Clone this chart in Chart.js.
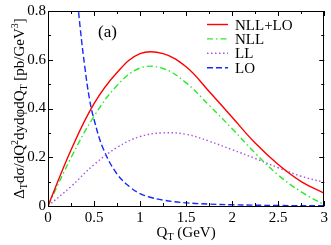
<!DOCTYPE html>
<html>
<head>
<meta charset="UTF-8">
<title>Q_T distribution (a)</title>
<script src="https://cdn.jsdelivr.net/npm/chart.js@4.4.0/dist/chart.umd.min.js"></script>
<style>
    body { margin: 0; background: #fff; }
    .chart-container { width: 331px; height: 245px; position: relative; }
</style>
</head>
<body>
<div class="chart-container">
    <canvas id="qtChart"></canvas>
</div>
<script>
// Data
const qtGrid   = [0, 0.25, 0.5, 0.75, 1.0, 1.25, 1.5, 1.75, 2.0, 2.25, 2.5, 2.75, 3.0];
const nllLo    = [0, 0.23, 0.42, 0.548, 0.625, 0.625, 0.571, 0.47, 0.364, 0.258, 0.17, 0.1, 0.052];
const nll      = [0, 0.198, 0.368, 0.494, 0.566, 0.564, 0.505, 0.413, 0.317, 0.217, 0.127, 0.058, 0.005];
const ll       = [0, 0.08, 0.17, 0.24, 0.285, 0.3, 0.294, 0.266, 0.231, 0.195, 0.157, 0.122, 0.097];
const qtLO     = [0.25, 0.3, 0.35, 0.4, 0.45, 0.5, 0.6, 0.75, 0.9, 1.0, 1.1, 1.25, 1.5, 1.75, 2.0, 2.5, 3.0];
const lo       = [1.2, 0.93, 0.73, 0.57, 0.44, 0.355, 0.235, 0.131, 0.075, 0.051, 0.037, 0.024, 0.013, 0.008, 0.005, 0.002, 0.001];
const xTicks   = [0, 0.5, 1, 1.5, 2, 2.5, 3];
const yTicks   = [0, 0.2, 0.4, 0.6, 0.8];

const series = [
    { label: 'NLL+LO', x: qtGrid, y: nllLo, color: 'rgb(255,0,0)',     dash: [] },
    { label: 'NLL',    x: qtGrid, y: nll,   color: 'rgb(40,235,40)',   dash: [6, 3, 1.5, 3] },
    { label: 'LL',     x: qtGrid, y: ll,    color: 'rgb(170,80,230)',  dash: [1.5, 2.5] },
    { label: 'LO',     x: qtLO,   y: lo,    color: 'rgb(20,40,255)',   dash: [6, 3] }
];

const serif = '"Liberation Serif", "DejaVu Serif", serif';

// draws text made of pieces with sub/superscripts, starting at x along baseline
function richText(ctx, parts, x, y, measureOnly) {
    let w = 0;
    parts.forEach(p => {
        ctx.font = p.size + 'px ' + serif;
        if (!measureOnly) ctx.fillText(p.t, x + w, y + (p.dy || 0));
        w += ctx.measureText(p.t).width;
    });
    return w;
}

const decorations = {
    id: 'decorations',
    afterDraw(chart) {
        const { ctx, chartArea: a, scales: { x, y } } = chart;
        ctx.save();
        ctx.strokeStyle = '#000';
        ctx.lineWidth = 1;
        ctx.strokeRect(Math.round(a.left) + 0.5, Math.round(a.top) + 0.5,
                       Math.round(a.right - a.left) - 1, Math.round(a.bottom - a.top));

        // inward ticks on all four sides
        ctx.beginPath();
        for (let v = 0; v <= 3.0001; v += 0.25) {
            const len = Math.abs(v / 0.5 - Math.round(v / 0.5)) < 1e-6 ? 5 : 3;
            const px = Math.round(x.getPixelForValue(v)) + 0.5;
            ctx.moveTo(px, a.bottom); ctx.lineTo(px, a.bottom - len);
            ctx.moveTo(px, a.top); ctx.lineTo(px, a.top + len);
        }
        for (let v = 0; v <= 0.8001; v += 0.1) {
            const len = Math.abs(v / 0.2 - Math.round(v / 0.2)) < 1e-6 ? 5 : 3;
            const py = Math.round(y.getPixelForValue(v)) + 0.5;
            ctx.moveTo(a.left, py); ctx.lineTo(a.left + len, py);
            ctx.moveTo(a.right, py); ctx.lineTo(a.right - len, py);
        }
        ctx.stroke();

        ctx.fillStyle = '#000';
        ctx.textBaseline = 'alphabetic';
        ctx.textAlign = 'left';

        // panel label
        ctx.font = '17px ' + serif;
        ctx.fillText('(a)', 98, 37);

        // legend
        series.forEach((s, i) => {
            const ry = 24.5 + i * 14.4;
            ctx.beginPath();
            ctx.strokeStyle = s.color;
            ctx.lineWidth = 1.4;
            ctx.setLineDash(s.dash);
            ctx.moveTo(207, ry); ctx.lineTo(228, ry);
            ctx.stroke();
            ctx.setLineDash([]);
            ctx.font = '15px ' + serif;
            ctx.fillText(s.label, 235, ry + 5);
        });

        // x title
        const xParts = [
            { t: 'Q', size: 15 }, { t: 'T', size: 10, dy: 3 }, { t: ' (GeV)', size: 15 }
        ];
        const xw = richText(ctx, xParts, 0, 0, true);
        richText(ctx, xParts, (a.left + a.right) / 2 - xw / 2, 237);

        // y title, rotated
        const yParts = [
            { t: '\u0394', size: 15 }, { t: 'T', size: 10, dy: 3 },
            { t: 'd\u03c3/dQ', size: 15 }, { t: '2', size: 10, dy: -6 },
            { t: 'dyd\u03c6dQ', size: 15 }, { t: 'T', size: 10, dy: 3 },
            { t: ' [pb/GeV', size: 15 }, { t: '3', size: 10, dy: -6 }, { t: ']', size: 15 }
        ];
        const yw = richText(ctx, yParts, 0, 0, true);
        ctx.translate(24, (a.top + a.bottom) / 2);
        ctx.rotate(-Math.PI / 2);
        richText(ctx, yParts, -yw / 2, 0);
        ctx.restore();
    }
};

const ctx = document.getElementById('qtChart').getContext('2d');
new Chart(ctx, {
    type: 'line',
    data: {
        datasets: series.map(s => ({
            label: s.label,
            data: s.x.map((q, i) => ({ x: q, y: s.y[i] })),
            borderColor: s.color,
            borderWidth: 1.4,
            borderDash: s.dash,
            pointRadius: 0,
            fill: false,
            tension: 0.4
        }))
    },
    options: {
        responsive: true,
        maintainAspectRatio: false,
        animation: false,
        layout: { padding: { top: 6, right: 5 } },
        plugins: { legend: { display: false }, tooltip: { enabled: false } },
        scales: {
            x: {
                type: 'linear', min: 0, max: 3,
                afterFit: s => { s.height = 39; },
                afterBuildTicks: s => { s.ticks = xTicks.map(v => ({ value: v })); },
                grid: { display: false, drawTicks: false },
                border: { display: false },
                ticks: { padding: 3, color: '#000', maxRotation: 0, callback: v => String(v),
                         font: { family: serif, size: 15 } }
            },
            y: {
                type: 'linear', min: 0, max: 0.8,
                afterFit: s => { s.width = 48; },
                afterBuildTicks: s => { s.ticks = yTicks.map(v => ({ value: v })); },
                grid: { display: false, drawTicks: false },
                border: { display: false },
                ticks: { padding: 2, color: '#000', callback: v => String(v),
                         font: { family: serif, size: 15 } }
            }
        }
    },
    plugins: [decorations]
});
</script>
</body>
</html>
